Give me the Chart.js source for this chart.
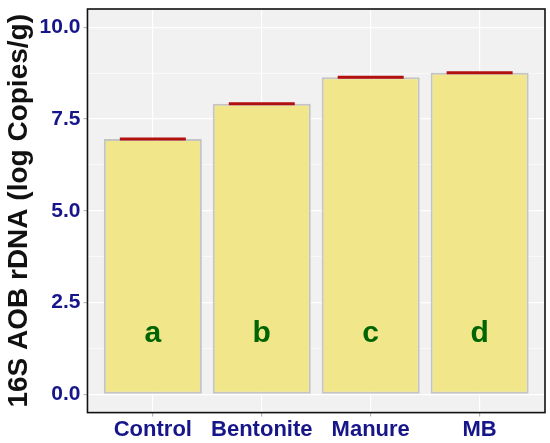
<!DOCTYPE html>
<html>
<head>
<meta charset="utf-8">
<script src="https://cdn.jsdelivr.net/npm/chart.js@4"></script>
<style>
  body { margin: 0; background: #fff; }
</style>
</head>
<body>
<canvas id="aobChart" width="550" height="443"></canvas>
<script>
const groups = ['Control', 'Bentonite', 'Manure', 'MB'];
const means = [6.96, 7.92, 8.64, 8.76];
const letters = ['a', 'b', 'c', 'd'];
const yTicks = [0, 2.5, 5, 7.5, 10];
const yMinor = [1.25, 3.75, 6.25, 8.75];
const letterY = 1.65;

const positions = groups.map((g, i) => i + 1);
const FONT = '"Liberation Sans", Arial, sans-serif';

// panel background + black frame, like ggplot theme
const panelPlugin = {
    id: 'panel',
    beforeDraw(chart) {
        const a = chart.chartArea;
        const ctx = chart.ctx;
        ctx.save();
        ctx.fillStyle = '#f1f1f1';
        ctx.fillRect(a.left, a.top, a.right - a.left, a.bottom - a.top);
        ctx.restore();
    },
    afterDraw(chart) {
        const a = chart.chartArea;
        const ctx = chart.ctx;
        ctx.save();
        ctx.strokeStyle = '#111';
        ctx.lineWidth = 1.6;
        ctx.strokeRect(a.left, a.top, a.right - a.left, a.bottom - a.top);
        ctx.restore();
    }
};

const letterPlugin = {
    id: 'letters',
    afterDatasetsDraw(chart) {
        const ctx = chart.ctx;
        const xs = chart.scales.x, ys = chart.scales.y;
        ctx.save();
        ctx.font = 'bold 30px ' + FONT;
        ctx.fillStyle = '#006400';
        ctx.textAlign = 'center';
        ctx.textBaseline = 'middle';
        letters.forEach((l, i) => {
            ctx.fillText(l, xs.getPixelForValue(positions[i]), ys.getPixelForValue(letterY));
        });
        ctx.restore();
    }
};

new Chart(document.getElementById('aobChart'), {
    type: 'bar',
    data: {
        datasets: [{
            type: 'line',
            data: positions.map((x, i) => ({ x: x, y: means[i] })),
            showLine: false,
            pointStyle: 'line',
            pointRadius: 33,
            pointBorderWidth: 3,
            pointBorderColor: '#b20f0f',
            pointHoverRadius: 33,
            order: 1
        }, {
            data: positions.map((x, i) => ({ x: x, y: means[i] })),
            backgroundColor: '#f2e68a',
            borderColor: '#c4c4c4',
            borderWidth: 2,
            borderSkipped: false,
            barPercentage: 0.9,
            categoryPercentage: 1,
            order: 2
        }]
    },
    options: {
        responsive: false,
        animation: false,
        devicePixelRatio: 1,
        layout: { autoPadding: false, padding: { top: 9, right: 5, left: 2, bottom: 0 } },
        plugins: {
            legend: { display: false },
            tooltip: { enabled: false }
        },
        scales: {
            x: {
                type: 'linear',
                min: 0.4,
                max: 4.6,
                offset: false,
                afterBuildTicks: (s) => { s.ticks = positions.map(v => ({ value: v })); },
                afterFit: (s) => { s.paddingLeft = 0; s.paddingRight = 0; },
                ticks: {
                    callback: (v) => groups[v - 1],
                    color: '#16168a',
                    font: { family: FONT, size: 22, weight: 'bold' },
                    padding: 0,
                    maxRotation: 0,
                    autoSkip: false
                },
                grid: {
                    offset: false,
                    color: '#ffffff',
                    lineWidth: 1.2,
                    tickColor: '#bbbbbb',
                    tickLength: 4
                },
                border: { display: false }
            },
            y: {
                min: -0.5,
                max: 10.5,
                afterBuildTicks: (s) => {
                    s.ticks = yTicks.concat(yMinor).sort((a, b) => a - b).map(v => ({ value: v }));
                },
                afterFit: (s) => { s.paddingTop = 0; s.paddingBottom = 0; },
                ticks: {
                    callback: (v) => yTicks.includes(v) ? v.toFixed(1) : '',
                    color: '#16168a',
                    font: { family: FONT, size: 21, weight: 'bold' },
                    padding: 3,
                    autoSkip: false
                },
                grid: {
                    color: '#ffffff',
                    lineWidth: (c) => yTicks.includes(c.tick && c.tick.value) ? 1.2 : 0.6,
                    tickColor: (c) => yTicks.includes(c.tick && c.tick.value) ? '#bbbbbb' : 'rgba(0,0,0,0)',
                    tickLength: 4
                },
                border: { display: false },
                title: {
                    display: true,
                    text: '16S AOB rDNA (log Copies/g)',
                    color: '#111',
                    font: { family: FONT, size: 28, weight: 'bold' },
                    padding: { top: 0, bottom: 1 }
                }
            }
        }
    },
    plugins: [panelPlugin, letterPlugin]
});
</script>
</body>
</html>
